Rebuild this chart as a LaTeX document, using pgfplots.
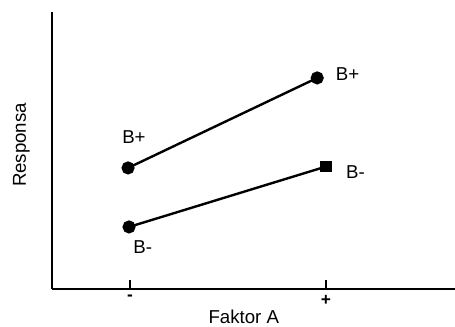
\documentclass[border=0pt]{standalone}
\usepackage{fontspec}
\setmainfont{Liberation Sans}
\usepackage{pgfplots}
\pgfplotsset{compat=1.18}
\begin{document}
\begin{tikzpicture}
\useasboundingbox (-39pt,-28.5pt) rectangle (302.25pt,216.75pt);
\begin{axis}[
  scale only axis,
  width=302.25pt, height=207.75pt,
  xmin=0.602, xmax=2.658,
  ymin=0, ymax=100,
  axis x line=bottom, axis y line=left,
  axis line style={-, line width=2pt},
  xtick={1,2}, xticklabels={-,+},
  ytick=\empty,
  major tick length=7pt,
  tick style={line width=1pt, black},
  xtick align=inside,
  xticklabel style={font=\fontsize{13}{15}\selectfont\bfseries, yshift=-1pt},
  clip=false,
  every axis plot/.append style={line width=1.8pt, black},
]
\addplot[mark=*, mark size=4pt] coordinates {(0.99,43.7) (1.955,76.2)};
\addplot[mark=*, mark size=4pt] coordinates {(0.995,22.4)};
\addplot[mark=none] coordinates {(0.995,22.4) (2.0,44.2)};
\addplot[only marks, mark=square*, mark size=3.3pt] coordinates {(2.0,44.2)};
\node[font=\fontsize{14}{16}\selectfont] at (axis cs:1.02,54.8) {B+};
\node[font=\fontsize{14}{16}\selectfont] at (axis cs:1.065,15.3) {B-};
\node[font=\fontsize{14}{16}\selectfont] at (axis cs:2.11,77.6) {B+};
\node[font=\fontsize{14}{16}\selectfont] at (axis cs:2.15,42.3) {B-};
\node[font=\fontsize{14}{16}\selectfont] at ([yshift=-21pt]axis description cs:0.476,0) {Faktor A};
\node[font=\fontsize{14}{16}\selectfont, rotate=90] at ([xshift=-23pt]axis description cs:0,0.52) {Responsa};
\end{axis}
\end{tikzpicture}
\end{document}
